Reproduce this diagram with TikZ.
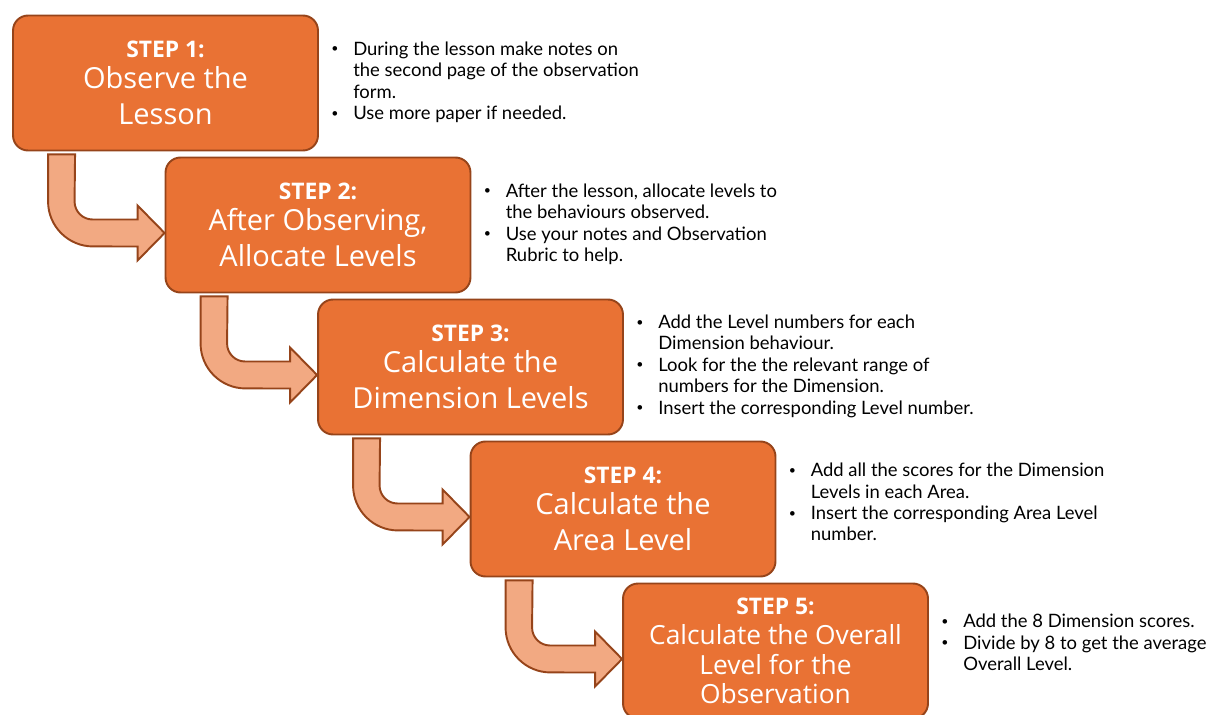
\documentclass[tikz,border=0pt]{standalone}
\usepackage{fontspec}
\setmainfont{Open Sans}
\newfontfamily\notefont{Lato}
\usepackage{tikz}
\usetikzlibrary{positioning,calc}
\definecolor{steporange}{HTML}{E97234}
\definecolor{stepedge}{HTML}{96441A}
\definecolor{flowpeach}{HTML}{F2A982}

\tikzset{
  stepbox/.style={draw=stepedge,line width=1.1pt,fill=steporange,rounded corners=0.3cm,
    minimum width=6.1cm,minimum height=2.7cm,align=center,text=white,inner sep=2pt,
    font=\fontsize{16.5}{20.5}\selectfont},
  stepflow/.style={draw=stepedge,line width=1.1pt,fill=flowpeach},
  notes/.style={inner sep=0pt,font=\notefont\fontsize{10.5}{12.2}\selectfont}
}
\newcommand{\steptitle}[1]{{\fontsize{13}{15}\selectfont\bfseries STEP #1:}}
\newcommand{\notedot}{\raisebox{0.25ex}{\scriptsize\textbullet}}
% bent arrow from the foot of one box into the side of the next
\newcommand{\bentarrow}[2]{%
  \draw[stepflow] ($(#1.south west)+(63,-3)$) -- ($(#1.south west)+(36,-3)$)
    -- ($(#1.south west)+(36,-50)$) arc[start angle=180,end angle=270,radius=0.9cm]
    -- ($(#2.west)+(-27,-21.5)$) -- ($(#2.west)+(-27,-35.5)$) -- ($(#2.west)+(0,-8)$)
    -- ($(#2.west)+(-27,19.5)$) -- ($(#2.west)+(-27,5.5)$) -- ($(#2.west)+(-72,5.5)$)
    arc[start angle=270,end angle=180,radius=0.36cm] -- cycle;}

\begin{document}
\begin{tikzpicture}[x=0.02cm,y=0.02cm]
    \useasboundingbox (0,0) rectangle (1206,714);
    \node[stepbox] (s1) at (165.5,631) {\steptitle{1}\\[-3pt]Observe the\\Lesson};
    \node[stepbox] (s2) at ($(s1)+(152.5,-142)$) {\steptitle{2}\\[-3pt]After Observing,\\Allocate Levels};
    \node[stepbox] (s3) at ($(s2)+(152.5,-142)$) {\steptitle{3}\\[-3pt]Calculate the\\Dimension Levels};
    \node[stepbox] (s4) at ($(s3)+(152.5,-142)$) {\steptitle{4}\\[-3pt]Calculate the\\Area Level};
    \node[stepbox,font=\fontsize{15}{17}\selectfont] (s5) at ($(s4)+(152.5,-142)$) {\steptitle{5}\\Calculate the Overall\\Level for the\\Observation};
    \bentarrow{s1}{s2}
    \bentarrow{s2}{s3}
    \bentarrow{s3}{s4}
    \bentarrow{s4}{s5}
    % notes beside each step
    \node[notes,right=0.24cm of s1] (n1) {\begin{tabular}{@{}p{0.44cm}@{}l@{}}
      \notedot & During the lesson make notes on\\
      & the second page of the observation\\
      & form.\\
      \notedot & Use more paper if needed.
    \end{tabular}};
    \node[notes,right=0.24cm of s2] (n2) {\begin{tabular}{@{}p{0.44cm}@{}l@{}}
      \notedot & After the lesson, allocate levels to\\
      & the behaviours observed.\\
      \notedot & Use your notes and Observation\\
      & Rubric to help.
    \end{tabular}};
    \node[notes,right=0.24cm of s3] (n3) {\begin{tabular}{@{}p{0.44cm}@{}l@{}}
      \notedot & Add the Level numbers for each\\
      & Dimension behaviour.\\
      \notedot & Look for the the relevant range of\\
      & numbers for the Dimension.\\
      \notedot & Insert the corresponding Level number.
    \end{tabular}};
    \node[notes,right=0.24cm of s4,yshift=0.09cm] (n4) {\begin{tabular}{@{}p{0.44cm}@{}l@{}}
      \notedot & Add all the scores for the Dimension\\
      & Levels in each Area.\\
      \notedot & Insert the corresponding Area Level\\
      & number.
    \end{tabular}};
    \node[notes,right=0.24cm of s5,yshift=0.12cm] (n5) {\begin{tabular}{@{}p{0.44cm}@{}l@{}}
      \notedot & Add the 8 Dimension scores.\\
      \notedot & Divide by 8 to get the average\\
      & Overall Level.
    \end{tabular}};
\end{tikzpicture}
\end{document}
